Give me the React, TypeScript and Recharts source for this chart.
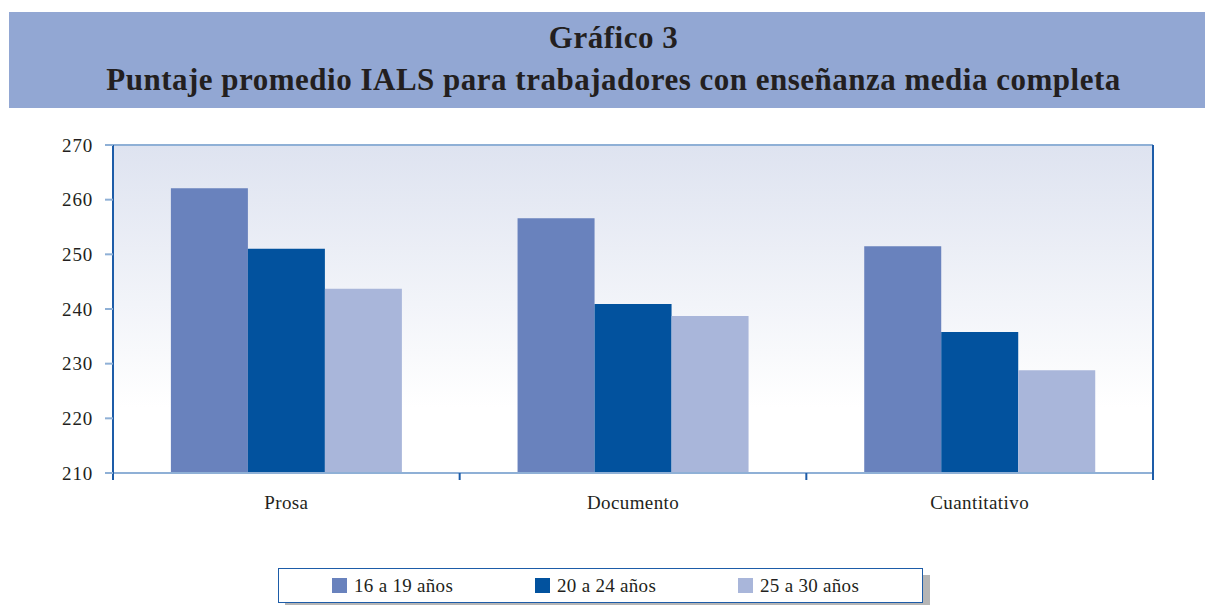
import { BarChart, Bar, XAxis, YAxis, CartesianGrid, ReferenceLine } from "recharts";

const categories = ["Prosa", "Documento", "Cuantitativo"];
const age16to19 = [262.1, 256.6, 251.5];
const age20to24 = [251.0, 240.9, 235.8];
const age25to30 = [243.7, 238.7, 228.8];
const yTicks = [210, 220, 230, 240, 250, 260, 270];
const boundaryTicks = [0, 1, 2, 3];

const series = [
    { key: "a", name: "16 a 19 años", color: "#6982bd", values: age16to19 },
    { key: "b", name: "20 a 24 años", color: "#02529e", values: age20to24 },
    { key: "c", name: "25 a 30 años", color: "#a9b6da", values: age25to30 },
];

const data = categories.map((cat, i) => {
    const row: Record<string, string | number> = { cat, idx: i + 0.5 };
    series.forEach((s) => (row[s.key] = s.values[i]));
    return row;
});

const font = "'Liberation Serif', 'Times New Roman', serif";
const ink = "#231f20";
const lightLine = "#8fb0d6";
const darkLine = "#1d5ca8";

const App = () => {
    return (
        <div style={{ position: "absolute", left: 0, top: 0, width: 1205, height: 605, background: "#fff", fontFamily: font }}>
            <div
                style={{
                    position: "absolute",
                    left: 9,
                    top: 12,
                    width: 1196,
                    height: 96,
                    background: "#92a7d3",
                    color: ink,
                    fontWeight: "bold",
                    fontSize: 31,
                    letterSpacing: 0.5,
                    textAlign: "center",
                    lineHeight: "42px",
                    paddingTop: 5,
                    paddingLeft: 13,
                    boxSizing: "border-box",
                }}
            >
                <div>Gráfico 3</div>
                <div>Puntaje promedio IALS para trabajadores con enseñanza media completa</div>
            </div>

            <BarChart
                width={1205}
                height={605}
                data={data}
                margin={{ top: 145, right: 51, left: 53, bottom: 101 }}
                barCategoryGap="16.7%"
                barGap={0}
                style={{ position: "absolute", left: 0, top: 0 }}
            >
                <defs>
                    <linearGradient id="plotBg" x1="0" y1="0" x2="0" y2="1">
                        <stop offset="0%" stopColor="#dee3f0" />
                        <stop offset="80%" stopColor="#ffffff" />
                        <stop offset="100%" stopColor="#ffffff" />
                    </linearGradient>
                </defs>
                <CartesianGrid horizontal={false} vertical={false} fill="url(#plotBg)" xAxisId="cat" yAxisId="left" />
                {/* boundary ticks between categories, drawn on a hidden numeric axis */}
                <XAxis
                    xAxisId="base"
                    type="number"
                    dataKey="idx"
                    domain={[0, 3]}
                    ticks={boundaryTicks}
                    tickFormatter={() => ""}
                    height={1}
                    tickSize={7}
                    axisLine={{ stroke: lightLine, strokeWidth: 2 }}
                    tickLine={{ stroke: darkLine, strokeWidth: 2 }}
                />
                <XAxis
                    xAxisId="cat"
                    dataKey="cat"
                    height={30}
                    axisLine={false}
                    tickLine={false}
                    tickSize={0}
                    tickMargin={22}
                    tick={{ fill: ink, fontSize: 19, fontFamily: font, letterSpacing: 0.4 }}
                />
                <YAxis
                    yAxisId="left"
                    domain={[210, 270]}
                    ticks={yTicks}
                    width={60}
                    tickSize={8}
                    tickMargin={12}
                    axisLine={{ stroke: darkLine, strokeWidth: 2 }}
                    tickLine={{ stroke: lightLine, strokeWidth: 2 }}
                    tick={{ fill: ink, fontSize: 19, fontFamily: font, letterSpacing: 0.8 }}
                />
                <YAxis
                    yAxisId="right"
                    orientation="right"
                    domain={[210, 270]}
                    width={1}
                    tick={false}
                    tickLine={false}
                    axisLine={{ stroke: darkLine, strokeWidth: 2 }}
                />
                <ReferenceLine y={270} yAxisId="left" xAxisId="cat" stroke={lightLine} strokeWidth={2} />
                {series.map((s) => (
                    <Bar
                        key={s.key}
                        dataKey={s.key}
                        name={s.name}
                        fill={s.color}
                        xAxisId="cat"
                        yAxisId="left"
                        isAnimationActive={false}
                    />
                ))}
            </BarChart>

            <div
                style={{
                    position: "absolute",
                    left: 278,
                    top: 568,
                    width: 645,
                    height: 35,
                    border: `1px solid ${darkLine}`,
                    boxSizing: "border-box",
                    background: "#fff",
                    boxShadow: "7px 7px 0 #b5b5b5",
                }}
            >
                {series.map((s, i) => (
                    <div
                        key={s.key}
                        style={{
                            position: "absolute",
                            left: 53 + i * 203,
                            top: 0,
                            height: 33,
                            display: "flex",
                            alignItems: "center",
                            fontSize: 19,
                            letterSpacing: 0.3,
                            color: ink,
                            whiteSpace: "nowrap",
                        }}
                    >
                        <span style={{ display: "inline-block", width: 15, height: 15, background: s.color, marginRight: 7 }} />
                        {s.name}
                    </div>
                ))}
            </div>
        </div>
    );
};

export default App;
